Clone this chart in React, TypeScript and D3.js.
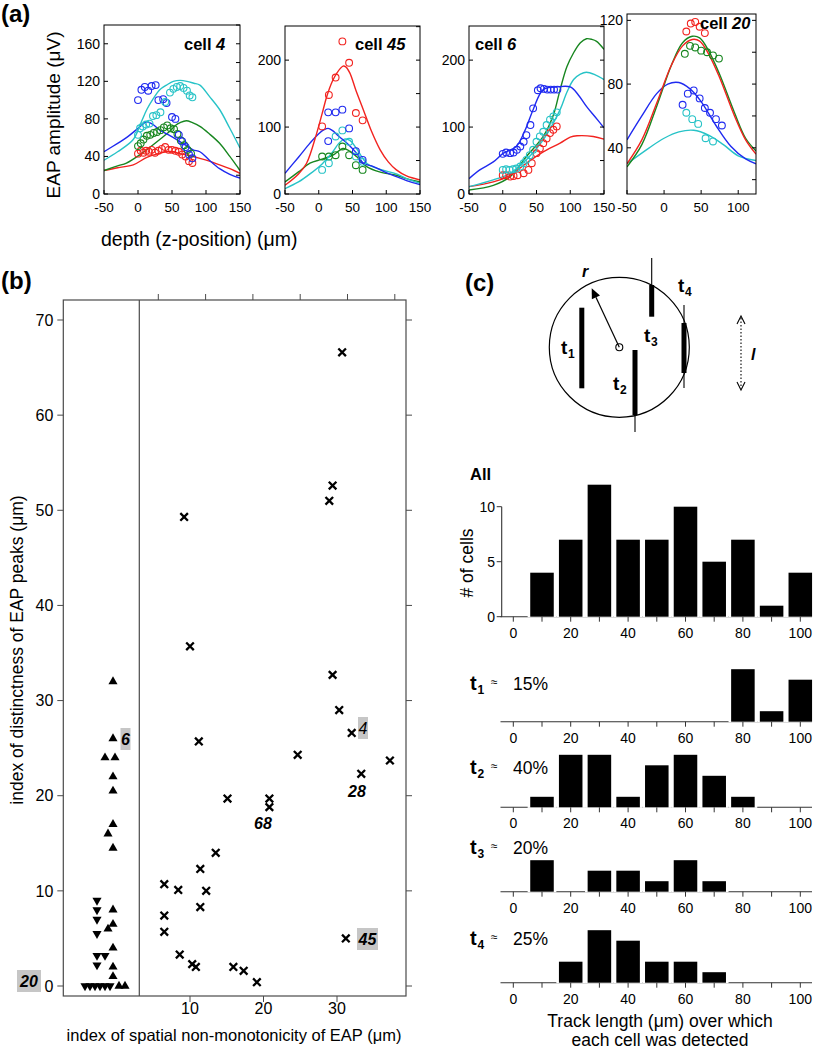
import React from 'react';
import * as d3 from 'd3';

const FONT = '"Liberation Sans", Arial, Helvetica, sans-serif';
const RED = '#f2231f';
const GREEN = '#17861f';
const BLUE = '#1f2af0';
const CYAN = '#27c3c7';

// ---------------- (a) EAP amplitude vs depth ----------------
const depthTicksFull = [-50, 0, 50, 100, 150];
const depthTicksCell20 = [-50, 0, 50, 100];
const ampTicksCell4 = [0, 40, 80, 120, 160];
const ampTicksCell45 = [0, 100, 200];
const ampTicksCell6 = [0, 100, 200];
const ampTicksCell20 = [40, 80, 120];

// cell 4
const c4BlueLine = [[-50,45],[-30,54],[-17,60],[0,70],[8,75],[13,77],[22,74],[32,68],[45,63],[57,58],[70,52],[81,47],[91,45],[105,36],[120,27],[135,21],[150,17]];
const c4CyanLine = [[-50,36],[-30,45],[-7,58],[5,77],[13,90],[22,101],[32,111],[42,116],[52,120],[62,121],[72,120],[82,118],[91,116],[105,104],[120,90],[135,70],[150,49]];
const c4GreenLine = [[-50,25],[-30,30],[-17,33],[3,42],[18,50],[32,58],[47,67],[55,73],[62,76],[71,78],[80,76],[91,72],[105,64],[120,54],[135,40],[150,25]];
const c4RedLine = [[-50,25],[-30,28],[-7,31],[13,39],[30,43],[42,45],[52,45],[62,43],[75,41],[91,38],[105,35],[120,31],[135,27],[150,22]];
const c4BlueDots = [[0,100],[5,111],[10,114],[15,110],[20,115],[26,116],[30,100],[37,101],[42,97],[50,82],[55,80],[60,63],[65,56],[70,50],[75,42],[80,38]];
const c4CyanDots = [[0,63],[3,70],[7,72],[12,74],[17,75],[22,83],[27,84],[33,87],[40,98],[47,108],[52,112],[57,114],[62,115],[67,113],[72,110],[76,105],[80,103]];
const c4GreenDots = [[0,51],[4,54],[8,58],[13,62],[18,63],[23,65],[28,66],[33,68],[38,71],[43,73],[48,70],[53,69],[58,64],[63,57],[68,52],[73,47],[78,43]];
const c4RedDots = [[0,43],[4,46],[8,44],[12,46],[16,45],[20,47],[25,44],[30,46],[35,48],[40,50],[45,47],[50,47],[55,46],[60,45],[65,42],[70,40],[75,35],[80,33]];

// cell 45
const c45RedLine = [[-50,13],[-30,30],[-18,46],[-3,91],[5,120],[12,146],[20,168],[27,181],[36,191],[40,190],[46,181],[55,155],[66,126],[78,94],[91,66],[103,48],[115,36],[130,27],[150,21]];
const c45BlueLine = [[-50,31],[-30,55],[-13,76],[0,90],[8,96],[14,98],[20,95],[30,86],[45,73],[56,61],[66,46],[81,41],[100,32],[115,26],[130,20],[150,14]];
const c45GreenLine = [[-50,18],[-30,33],[-13,46],[5,52],[21,58],[36,68],[46,64],[56,56],[71,41],[90,33],[115,28],[130,23],[150,18]];
const c45CyanLine = [[-50,8],[-30,18],[-13,30],[5,45],[20,62],[30,76],[38,82],[46,80],[56,68],[71,46],[90,37],[115,30],[130,23],[150,16]];
const c45RedDots = [[5,101],[15,148],[25,174],[35,228],[45,196],[55,121],[65,110]];
const c45BlueDots = [[14,79],[14,122],[25,122],[35,126],[45,98],[55,64],[65,51]];
const c45CyanDots = [[5,36],[15,46],[25,86],[35,95],[45,78],[55,56],[65,48]];
const c45GreenDots = [[5,56],[15,56],[25,58],[35,71],[45,58],[55,43],[65,36]];

// cell 6
const c6BlueLine = [[-50,23],[-34,36],[-14,48],[1,61],[20,71],[33,95],[45,126],[60,156],[80,160],[100,160],[112,148],[124,131],[137,115],[150,99]];
const c6GreenLine = [[-50,6],[-14,13],[11,26],[35,56],[60,86],[75,118],[85,156],[95,190],[105,211],[115,226],[124,232],[132,231],[139,228],[150,216]];
const c6CyanLine = [[-50,11],[-14,21],[11,31],[35,51],[60,81],[85,126],[95,152],[105,171],[115,179],[124,182],[137,178],[150,171]];
const c6RedLine = [[-50,11],[-14,18],[11,28],[35,46],[60,63],[85,76],[100,85],[110,87],[134,86],[150,82]];
const c6BlueDots = [[0,60],[5,62],[11,61],[16,62],[21,66],[26,71],[31,78],[35,88],[41,103],[45,128],[52,155],[56,158],[61,157],[66,156],[71,156],[76,156],[81,156]];
const c6CyanDots = [[0,36],[5,37],[10,36],[15,37],[20,38],[26,41],[31,46],[35,51],[40,58],[45,66],[50,78],[55,86],[60,93],[65,103],[70,111],[75,116],[80,122]];
const c6RedDots = [[0,28],[5,28],[11,26],[16,27],[22,28],[31,31],[38,36],[43,46],[50,61],[55,68],[60,76],[65,83],[70,91],[75,96],[80,101]];

// cell 20
const c20RedLine = [[-50,30],[-30,45],[-10,68],[10,92],[25,104],[38,108],[48,107],[60,99],[75,84],[95,60],[110,45],[124,36]];
const c20GreenLine = [[-50,28],[-30,42],[-10,66],[10,92],[25,106],[38,110],[48,109],[60,101],[75,86],[95,62],[110,46],[124,38]];
const c20BlueLine = [[-50,45],[-30,60],[-10,74],[5,80],[20,81],[35,77],[50,69],[70,54],[90,41],[110,33],[124,30]];
const c20CyanLine = [[-50,30],[-20,40],[0,46],[20,50],[40,51],[60,48],[80,42],[100,35],[124,32]];
const c20RedDots = [[30,113],[36,118],[42,119],[48,116],[55,112]];
const c20GreenDots = [[28,99],[35,104],[42,103],[50,101],[58,100],[66,98],[74,96]];
const c20BlueDots = [[25,67],[32,74],[40,76],[48,71],[55,65],[62,62],[70,58],[78,54]];
const c20CyanDots = [[30,62],[38,58],[46,55],[56,46],[66,44]];

// ---------------- (b) scatter ----------------
const bYTicks = [0, 10, 20, 30, 40, 50, 60, 70];
const bXTicks = [10, 20, 30];
const crossPts = [[30.7,66.6],[29.4,52.6],[28.95,51],[9.2,49.3],[10,35.7],[29.4,32.7],[30.3,29],[32,26.6],[11.2,25.7],[24.65,24.3],[37.2,23.7],[33.3,22.3],[15.1,19.7],[20.8,19.7],[20.8,18.8],
  [6.5,10.7],[8.4,10.1],[6.5,7.4],[6.5,5.7],[8.6,3.3],[10.3,2.3],[10.8,2],[11.4,12.3],[11.4,8.3],[12.2,10],[13.5,14],[15.9,2],[17.3,1.6],[19.1,0.4],[31.2,5]];
const upTriPts = [[0,32],[0,26],[-0.8,24],[0.2,24],[0,22],[0,20.5],[0,17],[-0.5,16],[0,14.5],[0,8],[0,6.5],[-0.5,6],[0,4],[0,2],[0,1],[0.6,0],[1.2,0]];
const downTriPts = [[-1.6,9],[-1.6,8],[-1.6,7],[-1.6,5.5],[-1.6,3.2],[-0.8,3.2],[-1.6,2.2],[-2.8,0],[-2.3,0],[-1.8,0],[-1.3,0],[-0.8,0],[-0.3,0]];

// ---------------- (c) histograms ----------------
const binCenters = [0, 10, 20, 30, 40, 50, 60, 70, 80, 90, 100];
const allCounts = [0, 4, 7, 12, 7, 7, 10, 5, 7, 1, 4];
const t1Counts = [0, 0, 0, 0, 0, 0, 0, 0, 5, 1, 4];
const t2Counts = [0, 1, 5, 5, 1, 4, 5, 3, 1, 0, 0];
const t3Counts = [0, 3, 0, 2, 2, 1, 3, 1, 0, 0, 0];
const t4Counts = [0, 0, 2, 5, 4, 2, 2, 1, 0, 0, 0];
const histLabelTicks = [0, 20, 40, 60, 80, 100];
const allYTicks = [0, 5, 10];
const trackNames = ['1', '2', '3', '4'];
const trackShares = ['15%', '40%', '20%', '25%'];

type Pt = number[];
interface Series { color: string; line: Pt[]; dots: Pt[] }

function EapPlot(props: {
  id: string; left: number; right: number; top: number; bottom: number;
  xDomain: number[]; yDomain: number[]; xTicks: number[]; yTicks: number[]; yMinor: number;
  cell: string; titleX: number; titleY: number; series: Series[];
}) {
  const { id, left, right, top, bottom, xDomain, yDomain, xTicks, yTicks, yMinor, cell, titleX, titleY, series } = props;
  const x = d3.scaleLinear().domain(xDomain).range([left, right]);
  const y = d3.scaleLinear().domain(yDomain).range([bottom, top]);
  const line = d3.line<Pt>().x(d => x(d[0])).y(d => y(d[1])).curve(d3.curveCatmullRom.alpha(0.5));
  const minor = d3.range(Math.ceil(yDomain[0] / yMinor) * yMinor, yDomain[1] + 1e-6, yMinor);
  return (
    <g>
      <defs>
        <clipPath id={id}><rect x={left} y={top} width={right - left} height={bottom - top} /></clipPath>
      </defs>
      <rect x={left} y={top} width={right - left} height={bottom - top} fill="#fff" />
      <g clipPath={`url(#${id})`}>
        {series.map((s, i) => (
          <path key={'l' + i} d={line(s.line) || ''} fill="none" stroke={s.color} strokeWidth={1.4} />
        ))}
      </g>
      {series.map((s, i) => (
        <g key={'d' + i}>
          {s.dots.map((d, j) => (
            <circle key={j} cx={x(d[0])} cy={y(d[1])} r={3.4} fill="none" stroke={s.color} strokeWidth={1.1} />
          ))}
        </g>
      ))}
      <rect x={left} y={top} width={right - left} height={bottom - top} fill="none" stroke="#000" strokeWidth={1} />
      {minor.map((v, i) => (
        <line key={'rm' + i} x1={right} x2={right - 4} y1={y(v)} y2={y(v)} stroke="#000" strokeWidth={1} />
      ))}
      {yTicks.map((v, i) => (
        <g key={'yt' + i}>
          <line x1={left} x2={left + 4} y1={y(v)} y2={y(v)} stroke="#000" />
          <text x={left - 4} y={y(v)} dy="0.36em" textAnchor="end" fontSize={14}>{v}</text>
        </g>
      ))}
      {xTicks.map((v, i) => (
        <g key={'xt' + i}>
          <line x1={x(v)} x2={x(v)} y1={bottom} y2={bottom - 4} stroke="#000" />
          <text x={x(v)} y={212} textAnchor="middle" fontSize={13.5}>{v}</text>
        </g>
      ))}
      <text x={titleX} y={titleY} fontSize={16.5} fontWeight="bold">cell <tspan fontStyle="italic">{cell}</tspan></text>
    </g>
  );
}

function PanelA() {
  const s4: Series[] = [
    { color: RED, line: c4RedLine, dots: c4RedDots },
    { color: GREEN, line: c4GreenLine, dots: c4GreenDots },
    { color: BLUE, line: c4BlueLine, dots: c4BlueDots },
    { color: CYAN, line: c4CyanLine, dots: c4CyanDots },
  ];
  const s45: Series[] = [
    { color: GREEN, line: c45GreenLine, dots: c45GreenDots },
    { color: CYAN, line: c45CyanLine, dots: c45CyanDots },
    { color: BLUE, line: c45BlueLine, dots: c45BlueDots },
    { color: RED, line: c45RedLine, dots: c45RedDots },
  ];
  const s6: Series[] = [
    { color: GREEN, line: c6GreenLine, dots: [] },
    { color: RED, line: c6RedLine, dots: c6RedDots },
    { color: CYAN, line: c6CyanLine, dots: c6CyanDots },
    { color: BLUE, line: c6BlueLine, dots: c6BlueDots },
  ];
  const s20: Series[] = [
    { color: CYAN, line: c20CyanLine, dots: c20CyanDots },
    { color: BLUE, line: c20BlueLine, dots: c20BlueDots },
    { color: GREEN, line: c20GreenLine, dots: c20GreenDots },
    { color: RED, line: c20RedLine, dots: c20RedDots },
  ];
  return (
    <g>
      <text x={1} y={22} fontSize={24} fontWeight="bold">(a)</text>
      <EapPlot id="c4" left={104} right={240} top={25} bottom={194} xDomain={[-50, 150]} yDomain={[0, 180]}
        xTicks={depthTicksFull} yTicks={ampTicksCell4} yMinor={20} cell="4" titleX={184} titleY={50} series={s4} />
      <EapPlot id="c45" left={285} right={420} top={26} bottom={194} xDomain={[-50, 150]} yDomain={[0, 251]}
        xTicks={depthTicksFull} yTicks={ampTicksCell45} yMinor={50} cell="45" titleX={355} titleY={50} series={s45} />
      <EapPlot id="c6" left={469} right={604} top={26} bottom={194} xDomain={[-50, 150]} yDomain={[0, 251]}
        xTicks={depthTicksFull} yTicks={ampTicksCell6} yMinor={50} cell="6" titleX={475} titleY={50} series={s6} />
      <EapPlot id="c20" left={627} right={756} top={14} bottom={194} xDomain={[-50, 124]} yDomain={[11, 124]}
        xTicks={depthTicksCell20} yTicks={ampTicksCell20} yMinor={20} cell="20" titleX={700} titleY={29} series={s20} />
      <text transform="translate(60,115) rotate(-90)" textAnchor="middle" fontSize={19}>EAP amplitude  (μV)</text>
      <text x={101} y={246} fontSize={19.5}>depth (z-position)  (μm)</text>
    </g>
  );
}

function PanelB() {
  const left = 63.3, right = 406, top = 300, bottom = 996, divider = 139.3;
  const x = d3.scaleLinear().domain([10, 30]).range([190, 337]);
  const y = d3.scaleLinear().domain([0, 70]).range([986, 320]);
  const strip = d3.scaleLinear().domain([-1, 1]).range([103, 123]);
  const tri = d3.symbol(d3.symbolTriangle, 36)() || '';
  const topTicks = d3.range(0, 6).map(i => x.invert(158.3 + i * 47.3));
  const grey = '#4a4a4a';
  const cross = 'M-3.8,-3.8L3.8,3.8M-3.8,3.8L3.8,-3.8';
  const labelBox = (cx: number, cy: number, txt: string, w: number, weight: string) => (
    <g>
      <rect x={cx - w / 2} y={cy - 11} width={w} height={22} fill="#c6c6c6" />
      <text x={cx} y={cy + 6} textAnchor="middle" fontSize={16} fontStyle="italic" fontWeight={weight}>{txt}</text>
    </g>
  );
  return (
    <g>
      <text x={1} y={289} fontSize={24} fontWeight="bold">(b)</text>
      <rect x={left} y={top} width={right - left} height={bottom - top} fill="none" stroke={grey} strokeWidth={1.2} />
      <line x1={divider} x2={divider} y1={top} y2={bottom} stroke={grey} strokeWidth={1.2} />
      {labelBox(29, 981, '20', 24, 'bold')}
      {bYTicks.map((v, i) => (
        <g key={i}>
          <line x1={left - 6} x2={left} y1={y(v)} y2={y(v)} stroke={grey} />
          <line x1={right} x2={right + 6} y1={y(v)} y2={y(v)} stroke={grey} />
          <text x={left - 10} y={y(v)} dy="0.36em" textAnchor="end" fontSize={16}>{v}</text>
        </g>
      ))}
      {bXTicks.map((v, i) => (
        <g key={i}>
          <line x1={x(v)} x2={x(v)} y1={bottom} y2={bottom + 6} stroke={grey} />
          <text x={x(v)} y={1014} textAnchor="middle" fontSize={16}>{v}</text>
        </g>
      ))}
      {topTicks.map((v, i) => (
        <line key={i} x1={x(v)} x2={x(v)} y1={top} y2={top - 6} stroke={grey} />
      ))}
      {crossPts.map((d, i) => (
        <path key={i} d={cross} transform={`translate(${x(d[0])},${y(d[1])})`} stroke="#000" strokeWidth={2.3} fill="none" />
      ))}
      {upTriPts.map((d, i) => (
        <path key={i} d={tri} transform={`translate(${strip(d[0])},${y(d[1])})`} fill="#000" />
      ))}
      {downTriPts.map((d, i) => (
        <path key={i} d={tri} transform={`translate(${strip(d[0])},${y(d[1])}) rotate(180)`} fill="#000" />
      ))}
      {labelBox(125.5, 739, '6', 10, 'bold')}
      {labelBox(363, 728, '4', 10, 'normal')}
      {labelBox(367.5, 939, '45', 21, 'bold')}
      <text x={357} y={797} textAnchor="middle" fontSize={16} fontStyle="italic" fontWeight="bold">28</text>
      <text x={263} y={829} textAnchor="middle" fontSize={16} fontStyle="italic" fontWeight="bold">68</text>
      <text transform="translate(23,650) rotate(-90)" textAnchor="middle" fontSize={17.5}>index of distinctness of EAP peaks (μm)</text>
      <text x={234} y={1041} textAnchor="middle" fontSize={16.5}>index of spatial non-monotonicity of EAP (μm)</text>
    </g>
  );
}

function Histo(props: { counts: number[]; base: number; unit: number; yAxis?: boolean }) {
  const { counts, base, unit, yAxis } = props;
  const x = d3.scaleLinear().domain([0, 100]).range([513.3, 800.3]);
  const halfBar = (x(8.2) - x(0)) / 2;
  const halfBin = (x(10) - x(0)) / 2;
  const y = d3.scaleLinear().domain([0, 1]).range([base, base - unit]);
  const axisCol = '#333';
  return (
    <g>
      <line x1={500.5} x2={812} y1={base} y2={base} stroke={axisCol} strokeWidth={1.1} />
      {binCenters.map((c, i) => counts[i] > 0 ? (
        <g key={i}>
          <rect x={x(c) - halfBin} y={y(counts[i]) - 1} width={halfBin * 2} height={base - y(counts[i]) + 1.6} fill="#fff" />
          <rect x={x(c) - halfBar} y={y(counts[i])} width={halfBar * 2} height={base - y(counts[i])} fill="#000" />
        </g>
      ) : null)}
      {binCenters.map((c, i) => (
        <line key={'t' + i} x1={x(c)} x2={x(c)} y1={base} y2={base + 5} stroke={axisCol} />
      ))}
      {histLabelTicks.map((c, i) => (
        <text key={'l' + i} x={x(c)} y={base + 21} textAnchor="middle" fontSize={14}>{c}</text>
      ))}
      {yAxis ? (
        <g>
          <line x1={501.7} x2={501.7} y1={base} y2={y(10)} stroke={axisCol} strokeWidth={1.1} />
          {allYTicks.map((v, i) => (
            <g key={i}>
              <line x1={496.7} x2={501.7} y1={y(v)} y2={y(v)} stroke={axisCol} />
              <text x={495} y={y(v)} dy="0.36em" textAnchor="end" fontSize={14}>{v}</text>
            </g>
          ))}
        </g>
      ) : null}
    </g>
  );
}

function TrackLabel(props: { name: string; share: string; baseline: number }) {
  const { name, share, baseline } = props;
  return (
    <g>
      <text x={470} y={baseline} fontSize={20} fontWeight="bold">t</text>
      <text x={477.5} y={baseline + 4} fontSize={12} fontWeight="bold">{name}</text>
      <text x={491} y={baseline - 4} fontSize={12}>≈</text>
      <text x={513} y={baseline} fontSize={17.5}>{share}</text>
    </g>
  );
}

function PanelC() {
  const cx = 619.3, cy = 347.3, r = 70;
  const tip = [591.7, 288.3];
  const ang = Math.atan2(tip[1] - cy, tip[0] - cx);
  const ah = 10, aw = 4.5;
  const back = [tip[0] - ah * Math.cos(ang), tip[1] - ah * Math.sin(ang)];
  const px = -Math.sin(ang), py = Math.cos(ang);
  const head = `M${tip[0]},${tip[1]}L${back[0] + aw * px},${back[1] + aw * py}L${back[0] - aw * px},${back[1] - aw * py}Z`;
  const tLabel = (x0: number, yb: number, n: string) => (
    <g>
      <text x={x0} y={yb} fontSize={19} fontWeight="bold">t</text>
      <text x={x0 + 7} y={yb + 4} fontSize={12} fontWeight="bold">{n}</text>
    </g>
  );
  const lx = 741;
  const bases = [721.7, 807.3, 891.7, 982.7];
  const labelBases = [690, 773.5, 853.5, 945];
  const tCounts = [t1Counts, t2Counts, t3Counts, t4Counts];
  return (
    <g>
      <text x={465} y={291} fontSize={24} fontWeight="bold">(c)</text>
      <circle cx={cx} cy={cy} r={r} fill="none" stroke="#000" strokeWidth={1.2} />
      <circle cx={cx} cy={cy} r={3.5} fill="#fff" stroke="#000" strokeWidth={1.1} />
      <line x1={cx} y1={cy} x2={back[0]} y2={back[1]} stroke="#000" strokeWidth={1.2} />
      <path d={head} fill="#000" />
      <text x={582} y={277} fontSize={16} fontWeight="bold" fontStyle="italic">r</text>
      <rect x={579.3} y={307.7} width={5} height={80.6} fill="#000" />
      {tLabel(561, 354, '1')}
      <line x1={635} x2={635} y1={350} y2={432} stroke="#000" strokeWidth={1.1} />
      <rect x={632.5} y={350} width={5} height={65} fill="#000" />
      {tLabel(613, 390, '2')}
      <line x1={651.7} x2={651.7} y1={258} y2={300} stroke="#000" strokeWidth={1.1} />
      <rect x={649.2} y={285} width={5} height={31.7} fill="#000" />
      {tLabel(644, 342, '3')}
      <line x1={684} x2={684} y1={305} y2={388} stroke="#000" strokeWidth={1.1} />
      <rect x={681.5} y={323} width={5} height={50} fill="#000" />
      {tLabel(678, 292, '4')}
      <line x1={lx} x2={lx} y1={318} y2={388} stroke="#000" strokeWidth={1.1} strokeDasharray="1.5,2" />
      <path d={`M${lx - 4},${324}L${lx},${316}L${lx + 4},${324}`} fill="none" stroke="#000" strokeWidth={1.1} />
      <path d={`M${lx - 4},${382}L${lx},${390}L${lx + 4},${382}`} fill="none" stroke="#000" strokeWidth={1.1} />
      <text x={751} y={360} fontSize={16} fontWeight="bold" fontStyle="italic">l</text>

      <text x={470} y={480} fontSize={16.5} fontWeight="bold">All</text>
      <text transform="translate(473,563) rotate(-90)" textAnchor="middle" fontSize={17.5}># of cells</text>
      <Histo counts={allCounts} base={616.7} unit={11} yAxis />
      {tCounts.map((c, i) => (
        <g key={i}>
          <Histo counts={c} base={bases[i]} unit={10.5} />
          <TrackLabel name={trackNames[i]} share={trackShares[i]} baseline={labelBases[i]} />
        </g>
      ))}
      <text x={660} y={1027} textAnchor="middle" fontSize={17.5}>Track length (μm) over which</text>
      <text x={660} y={1046} textAnchor="middle" fontSize={17.5}>each cell was detected</text>
    </g>
  );
}

export default function App() {
  return (
    <svg width={818} height={1050} viewBox="0 0 818 1050" style={{ position: 'absolute', left: 0, top: 0, background: '#fff' }} fontFamily={FONT}>
      <rect width={818} height={1050} fill="#fff" />
      <PanelA />
      <PanelB />
      <PanelC />
    </svg>
  );
}
